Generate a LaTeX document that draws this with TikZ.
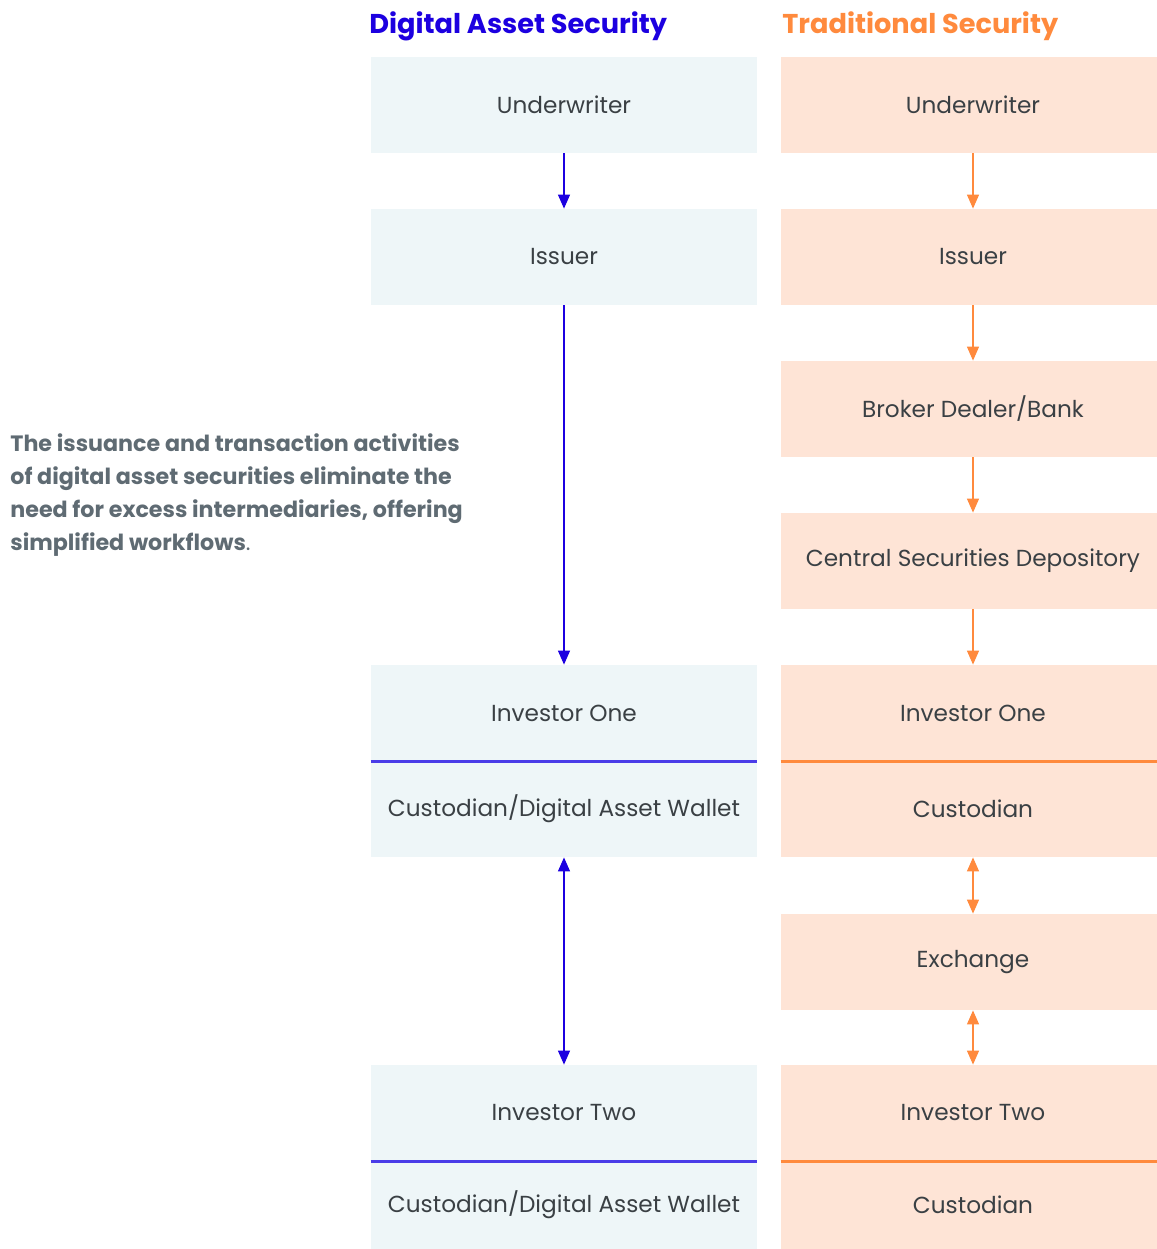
\documentclass[tikz,border=0pt]{standalone}
\usepackage{fontspec}
\setmainfont{Poppins}
\usepackage{tikz}
\usetikzlibrary{arrows.meta,positioning}
\usepackage{xcolor}
\definecolor{dablue}{HTML}{1C00E0}
\definecolor{daline}{HTML}{4A3CE8}
\definecolor{tsorange}{HTML}{FF8A3D}
\definecolor{dafill}{HTML}{EEF6F8}
\definecolor{tsfill}{HTML}{FEE4D6}
\definecolor{boxtext}{HTML}{3A4044}
\definecolor{notegray}{HTML}{5F6B73}

\begin{document}
\begin{tikzpicture}[
  x=0.5pt, y=-0.5pt,
  >={Triangle[width=6pt,length=7pt]},
  dabox/.style={fill=dafill, minimum width=193pt, minimum height=48pt, inner sep=0pt, font=\fontsize{11.6}{13}\selectfont, text=boxtext},
  tsbox/.style={fill=tsfill, minimum width=192pt, minimum height=48pt, inner sep=0pt, font=\fontsize{11.6}{13}\selectfont, text=boxtext},
  title/.style={anchor=west, inner sep=0pt, font=\fontsize{13.6}{16}\selectfont\bfseries},
  daarr/.style={->, line width=0.6pt, color=dablue},
  tsarr/.style={->, line width=0.6pt, color=tsorange},
  divline/.style={line width=1.1pt},
]
\useasboundingbox (0,0) rectangle (1157,1249);

% Titles
\node[title, text=dablue] (datitle) at (369,26) {Digital Asset Security};
\node[title, text=tsorange] (tstitle) at (782,26) {Traditional Security};

% Digital asset security
\node[dabox] (daund) at (564,105) {Underwriter};
\node[dabox] (daiss) at (564,257) {Issuer};
\node[dabox] (dainv1) at (564,713) {Investor One};
\node[dabox] (dacus1) at (564,809) {Custodian/Digital Asset Wallet};
\node[dabox] (dainv2) at (564,1113) {Investor Two};
\node[dabox, minimum height=44.5pt] (dacus2) at (564,1204.5) {Custodian/Digital Asset Wallet};
\draw[divline, color=daline] (dainv1.south west) -- (dainv1.south east);
\draw[divline, color=daline] (dainv2.south west) -- (dainv2.south east);

% Traditional security
\node[tsbox] (tsund) at (973,105) {Underwriter};
\node[tsbox] (tsiss) at (973,257) {Issuer};
\node[tsbox] (tsbrk) at (973,409) {Broker Dealer/Bank};
\node[tsbox] (tscsd) at (973,561) {Central Securities Depository};
\node[tsbox] (tsinv1) at (973,713) {Investor One};
\node[tsbox] (tscus1) at (973,809) {Custodian};
\node[tsbox] (tsexc) at (973,962) {Exchange};
\node[tsbox] (tsinv2) at (973,1113) {Investor Two};
\node[tsbox, minimum height=44.5pt] (tscus2) at (973,1204.5) {Custodian};
\draw[divline, color=tsorange] (tsinv1.south west) -- (tsinv1.south east);
\draw[divline, color=tsorange] (tsinv2.south west) -- (tsinv2.south east);

% Note
\node[anchor=north west, align=left, inner sep=0pt, text=notegray, font=\fontsize{11.1}{16.5}\selectfont\bfseries] (note) at (10,433)
  {The issuance and transaction activities\\of digital asset securities eliminate the\\need for excess intermediaries, offering\\simplified workflows{\mdseries.}};

% Arrows
\draw[daarr] (daund) -- (daiss);
\draw[daarr] (daiss) -- (dainv1);
\draw[daarr, <->] (dacus1) -- (dainv2);
\draw[tsarr] (tsund) -- (tsiss);
\draw[tsarr] (tsiss) -- (tsbrk);
\draw[tsarr] (tsbrk) -- (tscsd);
\draw[tsarr] (tscsd) -- (tsinv1);
\draw[tsarr, <->] (tscus1) -- (tsexc);
\draw[tsarr, <->] (tsexc) -- (tsinv2);
\end{tikzpicture}
\end{document}
